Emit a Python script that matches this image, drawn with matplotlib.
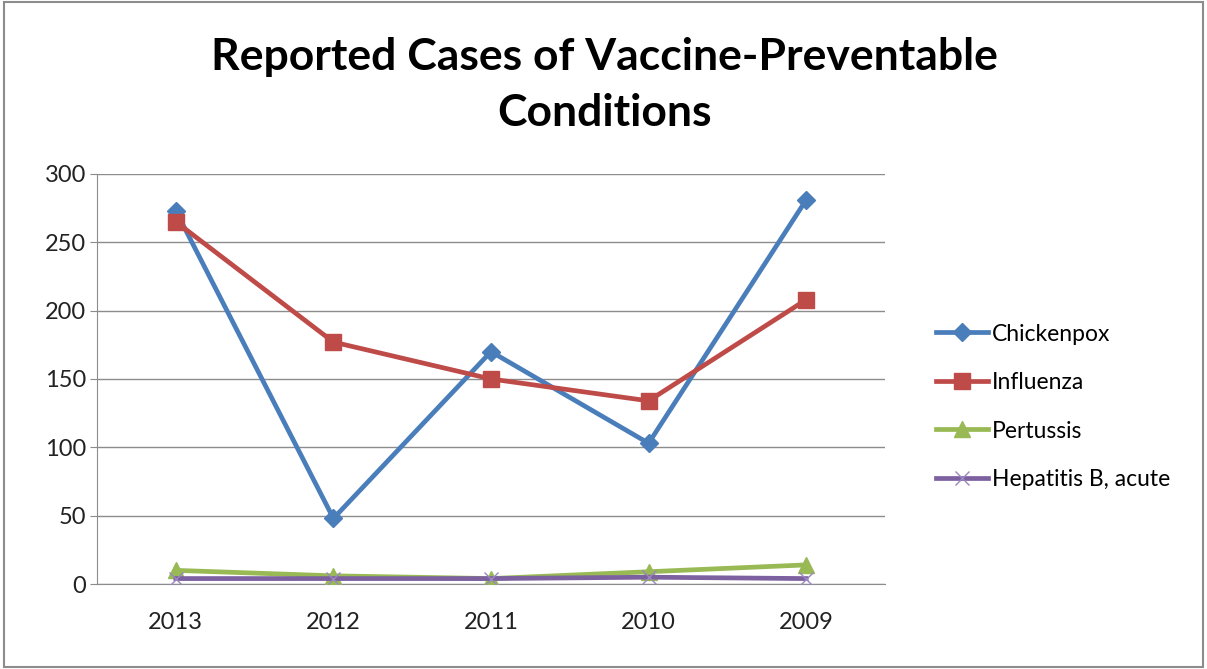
import matplotlib
matplotlib.use("Agg")
import matplotlib.pyplot as plt
from matplotlib.patches import Rectangle

years = ["2013", "2012", "2011", "2010", "2009"]
chickenpox = [273, 48, 170, 103, 281]
influenza = [265, 177, 150, 134, 208]
pertussis = [10, 6, 4, 9, 14]
hepatitis_b = [4, 4, 4, 5, 4]

plt.rcParams['font.family'] = ['Lato', 'DejaVu Sans']

fig = plt.figure(figsize=(12.07, 6.69), dpi=100)
fig.patches.append(Rectangle((0.003, 0.003), 0.994, 0.994, transform=fig.transFigure,
                             fill=False, edgecolor='#8c8c8c', linewidth=1.5))
ax = fig.add_axes([0.0804, 0.127, 0.6528, 0.613])

x = list(range(len(years)))
ax.plot(x, chickenpox, color='#4A7EBB', lw=3.4, marker='D', ms=9, label='Chickenpox', zorder=3)
ax.plot(x, influenza, color='#BE4B48', lw=3.4, marker='s', ms=11, label='Influenza', zorder=3)
ax.plot(x, pertussis, color='#98B954', lw=3.4, marker='^', ms=11, label='Pertussis', zorder=3)
ax.plot(x, hepatitis_b, color='#7D60A0', lw=3.4, marker='x', ms=10, mew=1, mec='#9A86C0',
        label='Hepatitis B, acute', zorder=4)

ax.set_xlim(-0.5, len(years) - 0.5)
ax.set_ylim(0, 300)
ax.set_yticks(range(0, 301, 50))
ax.set_xticks(x)
ax.set_xticklabels(years)
ax.grid(axis='y', color='#8c8c8c', lw=1)
ax.set_axisbelow(True)
for s in ['top', 'right']:
    ax.spines[s].set_visible(False)
for s in ['left', 'bottom']:
    ax.spines[s].set_color('#8c8c8c')
ax.tick_params(axis='both', labelsize=17, colors='#8c8c8c', labelcolor='#222222', length=5)
ax.tick_params(axis='x', length=0, pad=20)
ax.tick_params(axis='y', pad=3)

fig.text(0.501, 0.873, "Reported Cases of Vaccine-Preventable\nConditions", ha='center', va='center',
         fontsize=32, fontweight='bold', linespacing=1.48, color='black')

leg = fig.legend(loc='center left', bbox_to_anchor=(0.758, 0.392), frameon=False, fontsize=16.5,
                 handlelength=2.3, labelspacing=1.2, handletextpad=0.15)

fig.savefig("out.png", dpi=100)
